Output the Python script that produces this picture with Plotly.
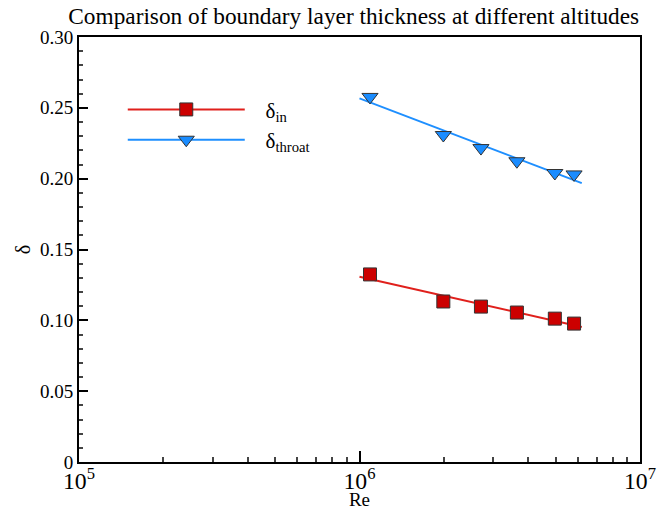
import numpy as np
import plotly.graph_objects as go

# Data
re_vals = [1.09e6, 1.99e6, 2.71e6, 3.64e6, 4.97e6, 5.82e6]
delta_in = [0.1324, 0.1133, 0.1097, 0.1055, 0.1012, 0.0977]
delta_throat = [0.2577, 0.2308, 0.2216, 0.2123, 0.2040, 0.2030]
fit_range = [1.0e6, 6.2e6]
y_tickvals = [0, 0.05, 0.10, 0.15, 0.20, 0.25, 0.30]
y_ticktext = ["0", "0.05", "0.10", "0.15", "0.20", "0.25", "0.30"]

FONT = "Liberation Serif, Times New Roman, serif"
RED_LINE = "#e0201c"
RED_FILL = "#cc0000"
BLUE_LINE = "#1e8fff"
BLUE_FILL = "#1a8cff"
GAP = "\u2002\u2005"

def fit_line(x, y):
    c = np.polyfit(np.log10(x), y, 1)
    xs = np.logspace(np.log10(fit_range[0]), np.log10(fit_range[1]), 30)
    return xs, np.polyval(c, np.log10(xs))

fig = go.Figure()
for name, ys, lc, fc, sym, sz in [
    ("δ<sub>in</sub>", delta_in, RED_LINE, RED_FILL, "square", 13),
    ("δ<sub>throat</sub>", delta_throat, BLUE_LINE, BLUE_FILL, "triangle-down", 14),
]:
    fx, fy = fit_line(re_vals, ys)
    fig.add_trace(go.Scatter(x=fx, y=fy, mode="lines", line=dict(color=lc, width=2),
                             showlegend=False, hoverinfo="skip"))
    fig.add_trace(go.Scatter(x=re_vals, y=ys, mode="markers",
                             marker=dict(symbol=sym, size=sz, color=fc,
                                         line=dict(color="#333333", width=1)),
                             showlegend=False))
    fig.add_trace(go.Scatter(x=[None], y=[None], mode="lines+markers", name=GAP + name,
                             line=dict(color=lc, width=2),
                             marker=dict(symbol=sym, size=sz, color=fc,
                                         line=dict(color="#333333", width=1))))

fig.update_layout(
    width=660, height=510,
    margin=dict(l=79, r=20, t=37, b=48),
    paper_bgcolor="white", plot_bgcolor="white",
    font=dict(family=FONT, size=19, color="black"),
    title=dict(text="Comparison of boundary layer thickness at different altitudes",
               x=0.536, xanchor="center", y=0.985, yanchor="top",
               font=dict(family=FONT, size=23.3, color="black")),
    showlegend=True,
    legend=dict(x=0.078, y=0.877, xanchor="left", yanchor="top",
                bgcolor="rgba(0,0,0,0)", itemwidth=117,
                font=dict(family=FONT, size=21), tracegroupgap=2),
    xaxis=dict(type="log", range=[5, 7], dtick=1, exponentformat="power",
               automargin=False, ticklabelstandoff=-3,
               tickfont=dict(size=19),
               showgrid=False, zeroline=False, showline=True, linecolor="black",
               linewidth=2, mirror=True, ticks="inside", ticklen=11, tickwidth=1.5,
               tickcolor="black",
               minor=dict(ticks="inside", ticklen=5, dtick="D1", tickcolor="#444444",
                          showgrid=False),
               title=dict(text="Re", standoff=1, font=dict(size=19))),
    yaxis=dict(range=[0, 0.30], tickmode="array", tickvals=y_tickvals, ticktext=y_ticktext,
               automargin=False,
               showgrid=False, zeroline=False, showline=True, linecolor="black",
               linewidth=2, mirror=True, ticks="inside", ticklen=9, tickwidth=1.5,
               tickcolor="black",
               minor=dict(ticks="inside", ticklen=4, dtick=0.01, tickcolor="#444444",
                          showgrid=False),
               title=dict(text="δ", standoff=4, font=dict(size=20))),
)
fig.write_html("out.html")
